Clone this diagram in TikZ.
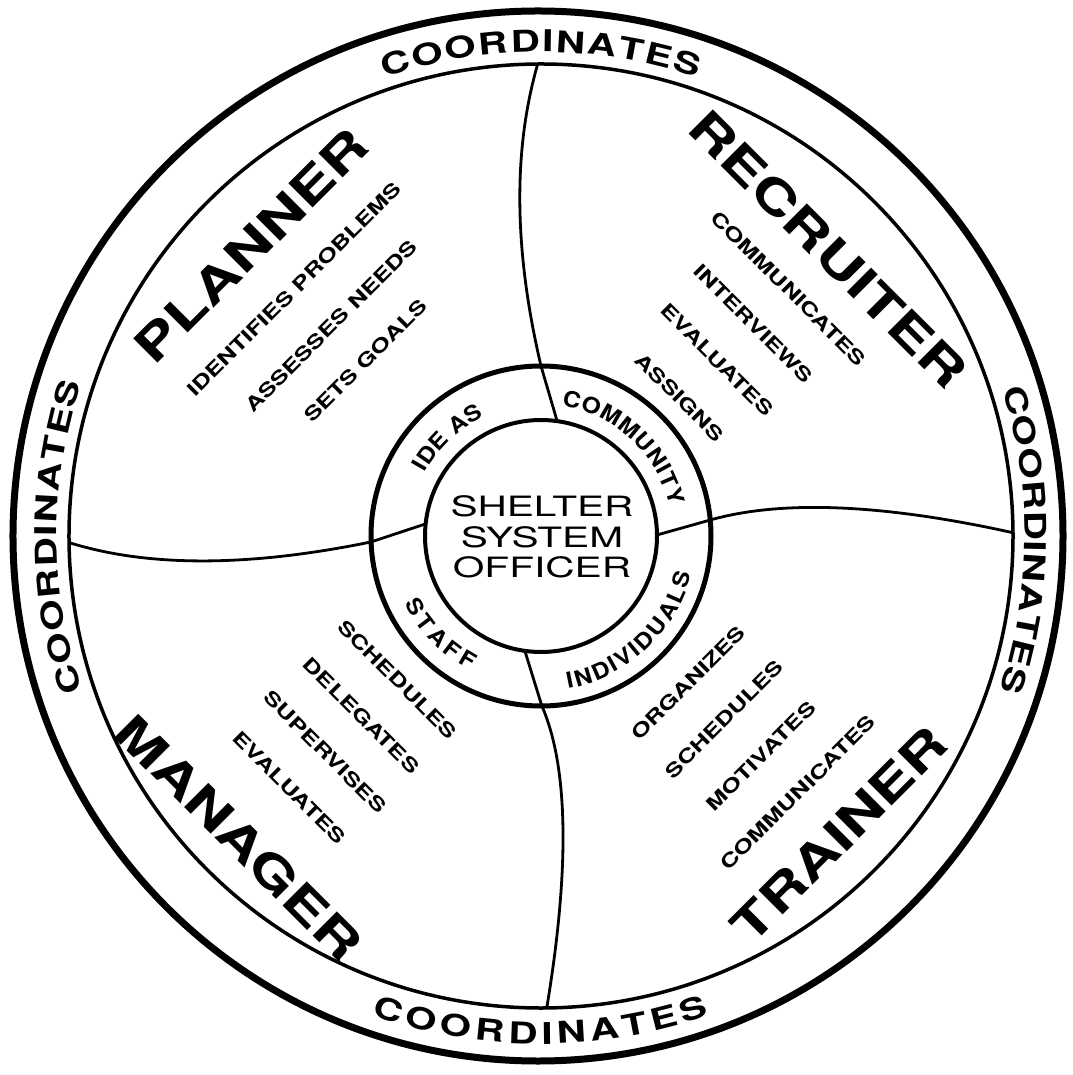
\documentclass[tikz,border=0pt]{standalone}
\usepackage{fontspec}
\usetikzlibrary{decorations.text}
\newfontfamily\widefont[FakeStretch=1.35]{TeX Gyre Heros}
\newfontfamily\ringfont[FakeStretch=1.12]{TeX Gyre Heros}
\newfontfamily\officerfont[FakeStretch=1.45]{TeX Gyre Heros}
\newcommand{\coordfont}{\widefont\bfseries\fontsize{30}{30}\selectfont}
\newcommand{\hubfont}{\ringfont\bfseries\fontsize{22}{22}\selectfont}

\begin{document}
\begin{tikzpicture}[x=1pt, y=1pt,
		role/.style={font=\widefont\bfseries\fontsize{47}{47}\selectfont, inner sep=0pt},
		duty/.style={font=\widefont\bfseries\fontsize{19}{19}\selectfont, inner sep=0pt},
		split/.style={line width=2.8pt},
		ringtext/.style={decorate, decoration={text along path, text align={fit to path}, text={#1}}}]
		\useasboundingbox (-541,-539) rectangle (531,536);
		% 圆环
		\draw[line width=7pt] (-3,0) circle (525);
		\draw[line width=3.5pt] (0,0) circle (472);
		\draw[line width=5pt] (0,0) circle (170);
		\draw[line width=4pt] (0,0) circle (116);
		% 分隔线
		\coordinate (t0) at (82:116); \coordinate (t1) at (90:170); \coordinate (t2) at (90.4:472);
		\draw[split] (t0) -- (t1) .. controls (-27,285) and (-28.3,385.3) .. (t2);
		\coordinate (r0) at (0.5:116); \coordinate (r1) at (5.4:170); \coordinate (r2) at (0.4:472);
		\draw[split] (r0) -- (r1) .. controls (240.7,36.3) and (342.3,32) .. (r2);
		\coordinate (b0) at (262:116); \coordinate (b1) at (270.3:170); \coordinate (b2) at (270.7:472);
		\draw[split] (b0) -- (b1) .. controls (27.3,-230.7) and (29,-331.7) .. (b2);
		\coordinate (l0) at (174:116); \coordinate (l1) at (182:170); \coordinate (l2) at (180.8:472);
		\draw[split] (l0) -- (l1) .. controls (-292,-31) and (-393,-31.3) .. (l2);
		% 外圈文字
		\path[ringtext={|\coordfont|COORDINATES}] (108.85:484) arc[start angle=108.85, end angle=71.15, radius=484];
		\path[ringtext={|\coordfont|COORDINATES}] (17.65:484) arc[start angle=17.65, end angle=-18.55, radius=484];
		\path[ringtext={|\coordfont|COORDINATES}] (198.65:484) arc[start angle=198.65, end angle=161.65, radius=484];
		\path[ringtext={|\coordfont|COORDINATES}] (250.55:508) arc[start angle=250.55, end angle=289.35, radius=508];
		% 内圈文字
		\path[ringtext={|\hubfont|IDE AS}] (151.5:132) arc[start angle=151.5, end angle=115.5, radius=132];
		\path[ringtext={|\hubfont|COMMUNITY}] (81:132) arc[start angle=81, end angle=13, radius=132];
		\path[ringtext={|\hubfont|INDIVIDUALS}] (-80:155) arc[start angle=-80, end angle=-14, radius=155];
		\path[ringtext={|\hubfont|STAFF}] (206.4:152) arc[start angle=206.4, end angle=242.2, radius=152];
		% 中心
		\node[font=\officerfont\fontsize{28}{30.5}\selectfont, align=center, inner sep=0pt] (officer) at (1,-1) {SHELTER\\SYSTEM\\OFFICER};
		% 左上
		\node[role, rotate=45] (planner) at (135:410) {PLANNER};
		\node[duty, rotate=45] (planner1) at (135:349) {IDENTIFIES PROBLEMS};
		\node[duty, rotate=45] (planner2) at (135:297) {ASSESSES NEEDS};
		\node[duty, rotate=45] (planner3) at (135:248) {SETS GOALS};
		% 右上
		\node[role, rotate=-45] (recruiter) at (45:406) {RECRUITER};
		\node[duty, rotate=-45] (recruiter1) at (45:350) {COMMUNICATES};
		\node[duty, rotate=-45] (recruiter2) at (45:300) {INTERVIEWS};
		\node[duty, rotate=-45] (recruiter3) at (45:249) {EVALUATES};
		\node[duty, rotate=-45] (recruiter4) at (45:196) {ASSIGNS};
		% 左下
		\node[role, rotate=-45] (manager) at (225:427) {MANAGER};
		\node[duty, rotate=-45] (manager1) at (225:203) {SCHEDULES};
		\node[duty, rotate=-45] (manager2) at (225:254) {DELEGATES};
		\node[duty, rotate=-45] (manager3) at (225:305) {SUPERVISES};
		\node[duty, rotate=-45] (manager4) at (225:356) {EVALUATES};
		% 右下
		\node[role, rotate=45] (trainer) at (315:422) {TRAINER};
		\node[duty, rotate=45] (trainer1) at (315:208) {ORGANIZES};
		\node[duty, rotate=45] (trainer2) at (315:259) {SCHEDULES};
		\node[duty, rotate=45] (trainer3) at (315:311) {MOTIVATES};
		\node[duty, rotate=45] (trainer4) at (315:363) {COMMUNICATES};
	\end{tikzpicture}
\end{document}
